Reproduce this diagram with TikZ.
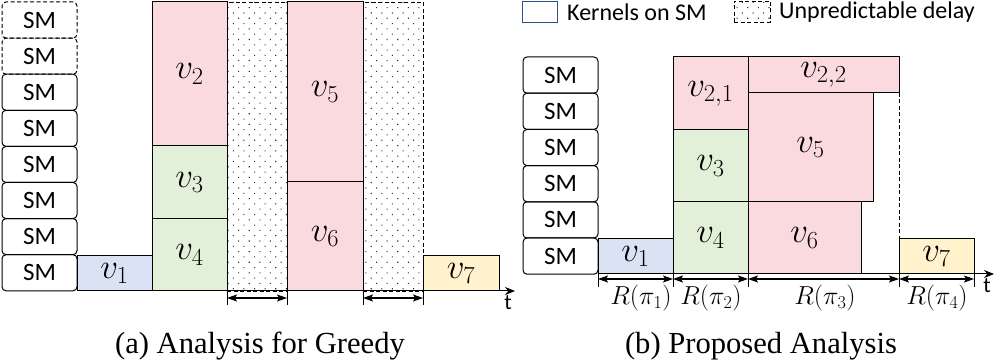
\RequirePackage{fix-cm}
\documentclass[tikz,border=0pt]{standalone}
\usepackage{fontspec}
\newfontfamily\calib{Carlito}
\newfontfamily\tnr{Liberation Serif}
\usetikzlibrary{arrows.meta,patterns.meta}
\definecolor{kblue}{HTML}{DAE3F3}
\definecolor{kgreen}{HTML}{E2F0D9}
\definecolor{kpink}{HTML}{FAD9DF}
\definecolor{kyellow}{HTML}{FFF2CC}
\definecolor{legblue}{HTML}{2F4F8F}
\newcommand{\kl}[1]{\raisebox{-5pt}{$#1$}}
\tikzset{
  smbox/.style={draw, rounded corners=4pt, line width=1pt, minimum width=75pt, minimum height=36.1pt, inner sep=0pt, outer sep=0pt, anchor=north west, font=\calib\fontsize{25}{30}\selectfont},
  smdash/.style={smbox, dash pattern=on 4pt off 2.5pt},
  kern/.style={draw, line width=1pt, inner sep=0pt, outer sep=0pt, anchor=north west, font=\fontsize{35}{40}\selectfont},
  dotfill/.style={pattern={Dots[angle=45,distance=7.5pt,radius=0.75pt]}, pattern color=black!80},
  delaybox/.style={draw, dotfill, dash pattern=on 4pt off 2.5pt, line width=0.9pt, inner sep=0pt, outer sep=0pt, anchor=north west},
  axisline/.style={line width=1pt, -{Stealth[length=10pt,width=8pt]}},
  dimarrow/.style={line width=1.1pt, {Stealth[length=10pt,width=7pt,inset=2pt]}-{Stealth[length=10pt,width=7pt,inset=2pt]}},
  tick/.style={line width=1pt},
  rlabel/.style={font=\fontsize{26}{30}\selectfont},
  tlabel/.style={font=\calib\fontsize{22}{26}\selectfont},
  caption/.style={font=\tnr\fontsize{30.6}{36}\selectfont},
  legtext/.style={font=\calib\fontsize{24}{28}\selectfont, anchor=west, inner sep=0pt}
}
\begin{document}
\begin{tikzpicture}[x=1pt,y=-1pt]
\useasboundingbox (0,0) rectangle (996,363);

% ---------- (a) ----------
\node[smdash] (la1) at (2,2) {SM};
\node[smdash] (la2) at (2,38.1) {SM};
\node[smbox] (la3) at (2,74.2) {SM};
\node[smbox] (la4) at (2,110.3) {SM};
\node[smbox] (la5) at (2,146.4) {SM};
\node[smbox] (la6) at (2,182.5) {SM};
\node[smbox] (la7) at (2,218.6) {SM};
\node[smbox] (la8) at (2,254.7) {SM};

\node[delaybox, minimum width=60pt, minimum height=289pt] (ad1) at (227,2) {};
\node[delaybox, minimum width=60pt, minimum height=289pt] (ad2) at (363,2) {};

\node[kern, fill=kblue, minimum width=75pt, minimum height=35pt] (av1) at (77,256) {\kl{v_1}};
\node[kern, fill=kpink, minimum width=75pt, minimum height=144pt] (av2) at (152,2) {\kl{v_2}};
\node[kern, fill=kgreen, minimum width=75pt, minimum height=73pt] (av3) at (152,146) {\kl{v_3}};
\node[kern, fill=kgreen, minimum width=75pt, minimum height=72pt] (av4) at (152,219) {\kl{v_4}};
\node[kern, fill=kpink, minimum width=76pt, minimum height=180pt] (av5) at (287,2) {\kl{v_5}};
\node[kern, fill=kpink, minimum width=76pt, minimum height=109pt] (av6) at (287,182) {\kl{v_6}};
\node[kern, fill=kyellow, minimum width=76pt, minimum height=35pt] (av7) at (423,256) {\kl{v_7}};

\coordinate (aend) at (515,291);
\draw[axisline] (av1.south west) -- (aend);
\node[tlabel] (at) at (508,303) {t};

\draw[tick] (ad1.south west) -- ++(0,14);
\draw[tick] (ad1.south east) -- ++(0,14);
\draw[dimarrow] ([yshift=-7pt]ad1.south west) -- ([yshift=-7pt]ad1.south east);
\draw[tick] (ad2.south west) -- ++(0,14);
\draw[tick] (ad2.south east) -- ++(0,14);
\draw[dimarrow] ([yshift=-7pt]ad2.south west) -- ([yshift=-7pt]ad2.south east);

\node[caption] (capa) at (260,346) {(a) Analysis for Greedy};

% ---------- legend ----------
\node[draw=legblue, line width=1.2pt, minimum width=35pt, minimum height=21pt, inner sep=0pt, anchor=north west] (lk) at (522,1) {};
\node[legtext] (lkt) at (567,12) {Kernels on SM};
\node[delaybox, minimum width=36pt, minimum height=21pt] (ld) at (734,1) {};
\node[legtext] (ldt) at (779,12) {Unpredictable delay};

% ---------- (b) ----------
\node[smbox, minimum height=36.2pt] (rb1) at (523,57) {SM};
\node[smbox, minimum height=36.2pt] (rb2) at (523,93.2) {SM};
\node[smbox, minimum height=36.2pt] (rb3) at (523,129.4) {SM};
\node[smbox, minimum height=36.2pt] (rb4) at (523,165.6) {SM};
\node[smbox, minimum height=36.2pt] (rb5) at (523,201.8) {SM};
\node[smbox, minimum height=36.2pt] (rb6) at (523,238) {SM};

\node[kern, fill=kblue, minimum width=75pt, minimum height=35pt] (bv1) at (598,239) {\kl{v_1}};
\node[kern, fill=kpink, minimum width=75pt, minimum height=73pt] (bv21) at (673,57) {\kl{v_{2,1}}};
\node[kern, fill=kgreen, minimum width=75pt, minimum height=72pt] (bv3) at (673,130) {\kl{v_3}};
\node[kern, fill=kgreen, minimum width=75pt, minimum height=72pt] (bv4) at (673,202) {\kl{v_4}};
\node[kern, fill=kpink, minimum width=151pt, minimum height=36pt] (bv22) at (748,57) {\kl{v_{2,2}}};
\node[kern, fill=kpink, minimum width=125pt, minimum height=109pt] (bv5) at (748,93) {\kl{v_5}};
\node[kern, fill=kpink, minimum width=113pt, minimum height=72pt] (bv6) at (748,202) {\kl{v_6}};
\node[kern, fill=kyellow, minimum width=75pt, minimum height=35pt] (bv7) at (899,239) {\kl{v_7}};

\draw[line width=0.9pt, dash pattern=on 4pt off 2.5pt] (bv22.south east) -- (bv7.north west);

\coordinate (bend) at (994,274);
\draw[axisline] (bv1.south west) -- (bend);
\node[tlabel] (bt) at (987,286) {t};

\coordinate (p0) at (598,274);
\coordinate (p1) at (673,274);
\coordinate (p2) at (748,274);
\coordinate (p3) at (899,274);
\coordinate (p4) at (974,274);
\foreach \p in {p0,p1,p2,p3,p4} \draw[tick] (\p) -- ++(0,13);
\draw[dimarrow] ([yshift=-5pt]p0) -- ([yshift=-5pt]p1);
\draw[dimarrow] ([yshift=-5pt]p1) -- ([yshift=-5pt]p2);
\draw[dimarrow] ([yshift=-5pt]p2) -- ([yshift=-5pt]p3);
\draw[dimarrow] ([yshift=-5pt]p3) -- ([yshift=-5pt]p4);
\node[rlabel] (r1) at (641,298) {$R(\pi_1)$};
\node[rlabel] (r2) at (711,298) {$R(\pi_2)$};
\node[rlabel] (r3) at (825,298) {$R(\pi_3)$};
\node[rlabel] (r4) at (937,298) {$R(\pi_4)$};

\node[caption] (capb) at (761,346) {(b) Proposed Analysis};
\end{tikzpicture}
\end{document}
